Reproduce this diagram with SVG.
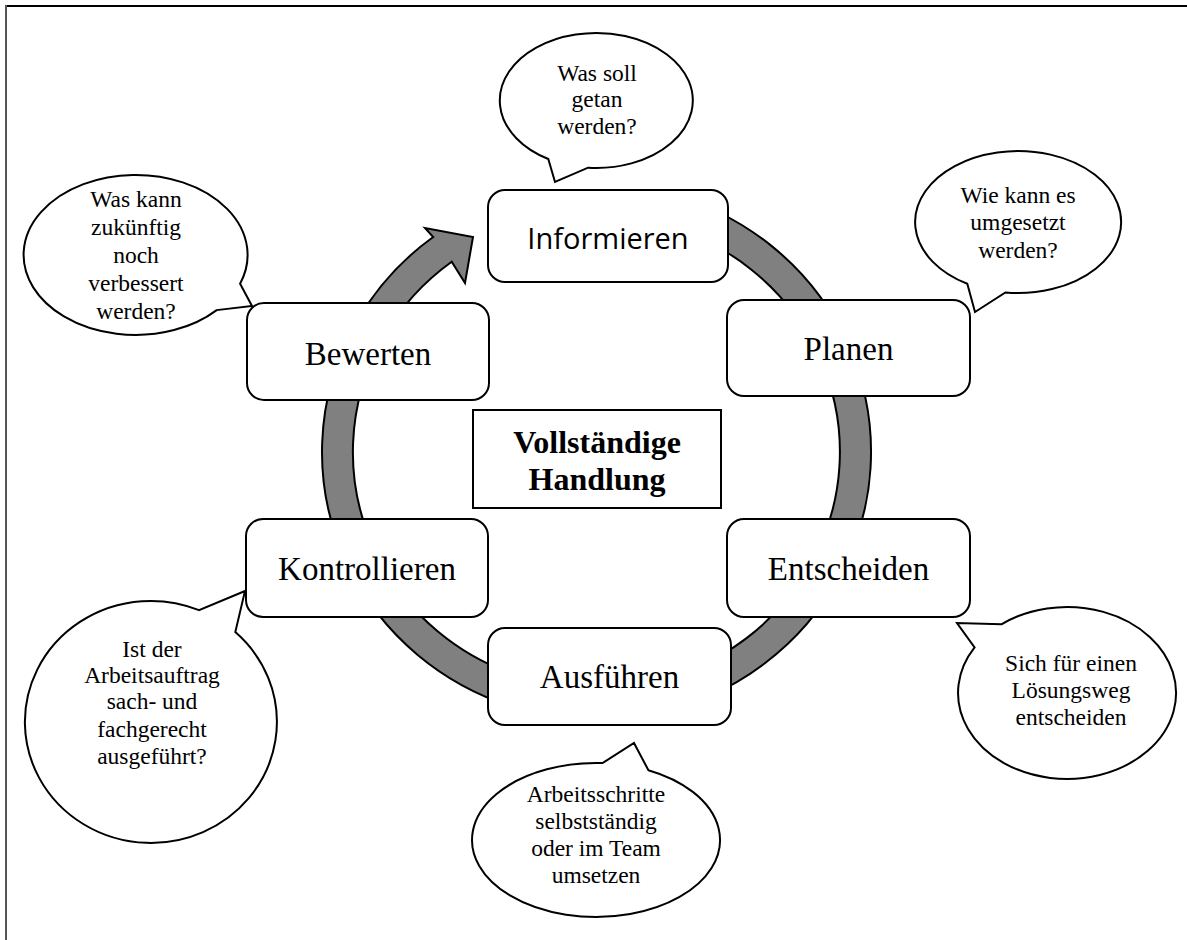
<svg xmlns="http://www.w3.org/2000/svg" width="1187" height="940" viewBox="0 0 1187 940">
<style>
.box{fill:#fff;stroke:#000;stroke-width:2}
.bub{fill:#fff;stroke:#000;stroke-width:2;stroke-linejoin:miter}
.ring{fill:#808080;stroke:#000;stroke-width:2;stroke-linejoin:miter}
.t{font-family:"Liberation Serif","Times New Roman",serif;font-size:33px;fill:#000;text-anchor:middle}
.s{font-family:"Open Sans","Noto Sans",sans-serif;font-size:29px;fill:#000;text-anchor:middle}
.b{font-family:"Liberation Serif","Times New Roman",serif;font-size:23.5px;fill:#000;text-anchor:middle}
.c{font-family:"Liberation Serif","Times New Roman",serif;font-size:32px;font-weight:bold;fill:#000;text-anchor:middle}
</style>
<rect width="1187" height="940" fill="#fff"/>
<g id="frame">
<line x1="5" y1="6" x2="1187" y2="6" stroke="#000" stroke-width="2"/>
<line x1="6" y1="5" x2="6" y2="940" stroke="#555" stroke-width="2"/>
</g>
<g id="connectors">
<path class="ring" d="M 667.5 193.6 A 274.5 267.5 0 1 1 433.2 237.0 L 425 228 L 473 237 L 465 283 L 451.7 261.8 A 243.5 236.5 0 1 0 659.5 223.6 Z"/>
</g>
<g id="node-informieren">
<rect class="box" x="488" y="190" width="240" height="92" rx="17"/>
<text class="s" x="608" y="249">Informieren</text>
</g>
<g id="node-planen">
<rect class="box" x="727" y="300" width="243" height="96" rx="17"/>
<text class="t" x="848.5" y="360">Planen</text>
</g>
<g id="node-entscheiden">
<rect class="box" x="727" y="519" width="243" height="98" rx="17"/>
<text class="t" x="848.5" y="580">Entscheiden</text>
</g>
<g id="node-ausfuehren">
<rect class="box" x="488" y="628" width="243" height="97" rx="17"/>
<text class="t" x="609.5" y="688">Ausführen</text>
</g>
<g id="node-kontrollieren">
<rect class="box" x="246" y="519" width="242" height="98" rx="17"/>
<text class="t" x="367" y="580">Kontrollieren</text>
</g>
<g id="node-bewerten">
<rect class="box" x="247" y="303" width="242" height="97" rx="17"/>
<text class="t" x="368" y="365">Bewerten</text>
</g>
<g id="node-center">
<rect class="box" x="473" y="410" width="248" height="98"/>
<text class="c" x="597" y="453">Vollständige</text>
<text class="c" x="597" y="490">Handlung</text>
</g>
<g id="bubble-informieren">
<path class="bub" d="M 588.1 167.7 A 96.5 67.5 0 1 0 548.3 159.0 L 555 182 Z"/>
<text class="b" x="597" y="81">Was soll</text>
<text class="b" x="597" y="107">getan</text>
<text class="b" x="597" y="134">werden?</text>
</g>
<g id="bubble-planen">
<path class="bub" d="M 1005.4 292.5 A 103 71 0 1 0 967.3 283.8 L 975 312 Z"/>
<text class="b" x="1018" y="203">Wie kann es</text>
<text class="b" x="1018" y="230">umgesetzt</text>
<text class="b" x="1018" y="258">werden?</text>
</g>
<g id="bubble-entscheiden">
<path class="bub" d="M 1001.4 624.3 A 109 86 0 1 1 974.6 647.4 L 957 623 Z"/>
<text class="b" x="1071" y="671">Sich für einen</text>
<text class="b" x="1071" y="698">Lösungsweg</text>
<text class="b" x="1071" y="725">entscheiden</text>
</g>
<g id="bubble-ausfuehren">
<path class="bub" d="M 602.5 763.1 A 124 77 0 1 0 648.4 770.2 L 634 743 Z"/>
<text class="b" x="596" y="802">Arbeitsschritte</text>
<text class="b" x="596" y="829">selbstständig</text>
<text class="b" x="596" y="856">oder im Team</text>
<text class="b" x="596" y="883">umsetzen</text>
</g>
<g id="bubble-kontrollieren">
<path class="bub" d="M 199 610.1 A 126 121 0 1 0 235.3 632.1 L 245 591 Z"/>
<text class="b" x="152" y="657">Ist der</text>
<text class="b" x="152" y="683">Arbeitsauftrag</text>
<text class="b" x="152" y="709">sach- und</text>
<text class="b" x="152" y="737">fachgerecht</text>
<text class="b" x="152" y="764">ausgeführt?</text>
</g>
<g id="bubble-bewerten">
<path class="bub" d="M 240.1 283.7 A 112 80 0 1 0 216.7 310.1 L 252 306 Z"/>
<text class="b" x="136" y="207">Was kann</text>
<text class="b" x="136" y="235">zukünftig</text>
<text class="b" x="136" y="263">noch</text>
<text class="b" x="136" y="291">verbessert</text>
<text class="b" x="136" y="319">werden?</text>
</g>
</svg>
